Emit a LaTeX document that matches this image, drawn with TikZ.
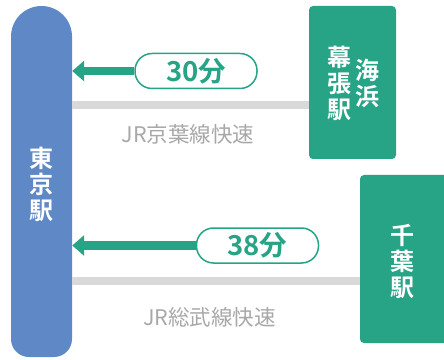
\documentclass[tikz,border=0pt]{standalone}
\usepackage{fontspec}
\setmainfont{Noto Sans CJK JP}
\newfontfamily\cjkbold{Noto Sans CJK JP Bold}
\usetikzlibrary{arrows.meta}
\definecolor{tgreen}{HTML}{27A386}
\definecolor{tblue}{HTML}{5F89C6}
\definecolor{railgray}{HTML}{D9D9D9}
\definecolor{txtgray}{HTML}{A8A8A8}
\tikzset{
  stationbox/.style={fill=tgreen, rounded corners=4pt, inner sep=0pt},
  stationtext/.style={text=white, font=\cjkbold\fontsize{24}{26}\selectfont, align=center, inner sep=0pt},
  timelabel/.style={draw=tgreen, line width=1.5pt, fill=white, rounded corners=17pt,
    minimum width=122pt, minimum height=35pt, inner sep=0pt, text=tgreen,
    font=\cjkbold\fontsize{27.5}{29}\selectfont},
  timearrow/.style={draw=tgreen, line width=8.5pt, -{Triangle[length=12pt,width=20pt]}},
  rail/.style={draw=railgray, line width=8pt},
  linename/.style={text=txtgray, font=\fontsize{21.5}{23}\selectfont, inner sep=0pt}
}
\begin{document}
\begin{tikzpicture}[x=1pt,y=1pt]
\useasboundingbox (0,0) rectangle (444,359);
% Tokyo station pill
\fill[tblue] (11,322.5) arc[start angle=180,end angle=0,radius=30.5]
  [rounded corners=18pt] -- (72,2) -- (11,2) [sharp corners] -- cycle;
\node[minimum width=61pt, minimum height=352pt, inner sep=0pt] (tokyo) at (41.5,177) {};
\node[stationtext] (tokyotext) at (41,175) {東\\京\\駅};
% Kaihin-Makuhari
\node[stationbox, minimum width=87pt, minimum height=153pt] (kaihin) at (352.5,276.5) {};
\node[stationtext] (kaihinA) at (367.5,276) {海\\浜};
\node[stationtext] (kaihinB) at (339.5,276) {幕\\張\\駅};
% Chiba
\node[stationbox, minimum width=100pt, minimum height=168pt] (chiba) at (410,100) {};
\node[stationtext] (chibatext) at (402.5,97.5) {千\\葉\\駅};
% rails
\draw[rail] (tokyo.east |- 0,254) -- (kaihin.west |- 0,254);
\draw[rail] (tokyo.east |- 0,78) -- (chiba.west |- 0,78);
\node[linename] (keiyo) at (188,225) {JR京葉線快速};
\node[linename] (sobu) at (209.5,42) {JR総武線快速};
% time labels and arrows
\node[timelabel] (t1) at (196,288) {30分};
\draw[timearrow] (t1.west) -- (t1.west -| tokyo.east);
\node[timelabel] (t2) at (257.5,113.5) {38分};
\draw[timearrow] (t2.west) -- (t2.west -| tokyo.east);
\end{tikzpicture}
\end{document}
